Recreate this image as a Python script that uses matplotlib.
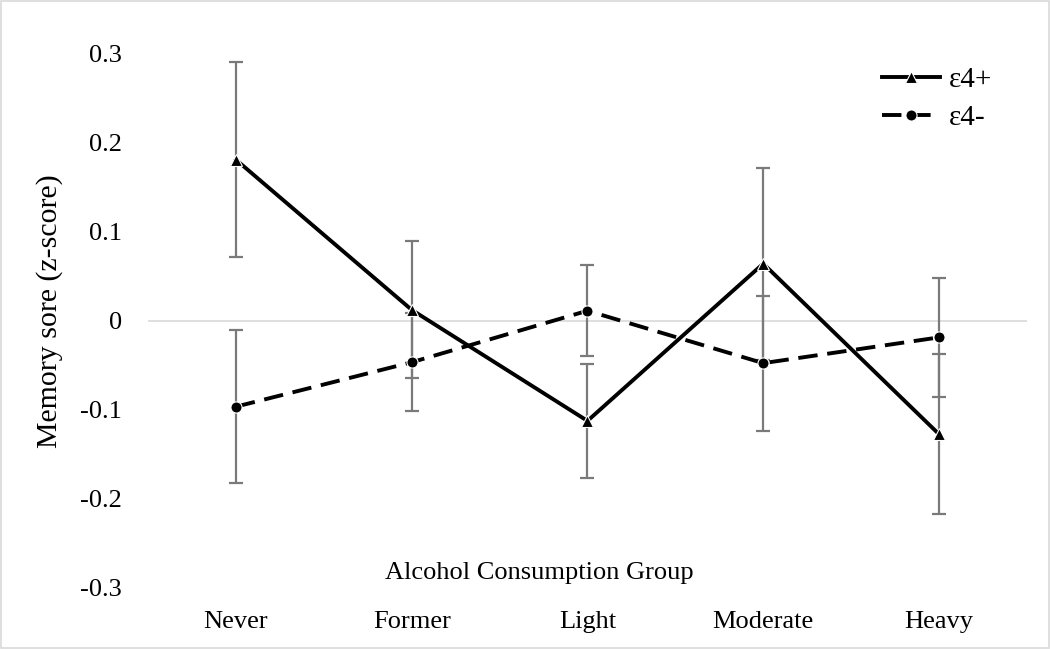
import matplotlib.pyplot as plt
import matplotlib.patches as patches
from matplotlib.ticker import FuncFormatter

plt.rcParams['font.family'] = ['Liberation Serif', 'DejaVu Serif']
plt.rcParams['axes.unicode_minus'] = False

# Data
groups = ['Never', 'Former', 'Light', 'Moderate', 'Heavy']
e4_pos = [0.181, 0.012, -0.113, 0.064, -0.128]
e4_pos_err = [0.110, 0.077, 0.064, 0.108, 0.090]
e4_neg = [-0.097, -0.047, 0.011, -0.048, -0.019]
e4_neg_err = [0.086, 0.055, 0.051, 0.076, 0.067]

fig = plt.figure(figsize=(10.5, 6.49), dpi=100)
ax = fig.add_axes([0.141, 0.0955, 0.837, 0.8213])

x = list(range(len(groups)))

# zero line
ax.axhline(0, color='#d9d9d9', lw=1.2, zorder=1)

err_kw = dict(fmt='none', ecolor='#7a7a7a', elinewidth=1.6, capsize=5, capthick=1.6, zorder=2)
ax.errorbar(x, e4_pos, yerr=e4_pos_err, **err_kw)
ax.errorbar(x, e4_neg, yerr=e4_neg_err, **err_kw)

ax.plot(x, e4_pos, color='black', lw=2.8, marker='^', markersize=8,
        markeredgecolor='white', markeredgewidth=0.8, label='ε4+', zorder=3)
ax.plot(x, e4_neg, color='black', lw=2.8, ls=(0, (5, 2.5)), marker='o', markersize=8,
        markeredgecolor='white', markeredgewidth=0.8, label='ε4-', zorder=3)

ax.set_xlim(-0.5, 4.5)
ax.set_ylim(-0.3, 0.3)
ax.set_yticks([-0.3, -0.2, -0.1, 0, 0.1, 0.2, 0.3])
ax.yaxis.set_major_formatter(FuncFormatter(lambda v, p: '{:g}'.format(round(v, 2))))
ax.set_xticks(x)
ax.set_xticklabels(groups)
ax.tick_params(axis='both', length=0, labelsize=19, colors='black')
ax.tick_params(axis='y', pad=19)
ax.tick_params(axis='x', pad=17)
for s in ax.spines.values():
    s.set_visible(False)

fig.text(0.047, 0.52, 'Memory sore (z-score)', rotation=90, ha='center', va='center', fontsize=21.5)
fig.text(0.514, 0.117, 'Alcohol Consumption Group', ha='center', va='center', fontsize=19)

leg = ax.legend(loc='upper right', bbox_to_anchor=(0.99, 1.025), frameon=False, fontsize=21,
                handlelength=2.0, handletextpad=0.3, labelspacing=0.4)

# light chart border
fig.patches.append(patches.Rectangle((0.001, 0.001), 0.998, 0.997, transform=fig.transFigure,
                                     fill=False, edgecolor='#d9d9d9', lw=1.2))

fig.savefig('out.png', dpi=100)
